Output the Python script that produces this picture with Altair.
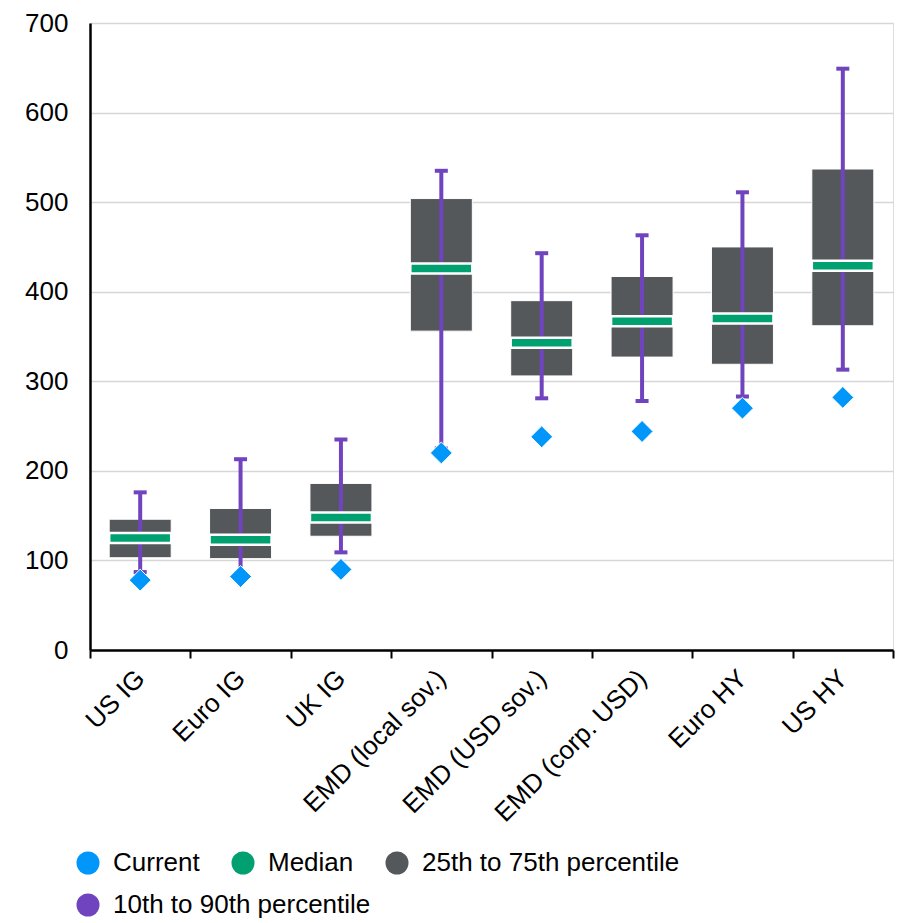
import altair as alt
import pandas as pd

categories = ["US IG", "Euro IG", "UK IG", "EMD (local sov.)", "EMD (USD sov.)",
              "EMD (corp. USD)", "Euro HY", "US HY"]
p10 = [87, 86, 109, 225, 281, 278, 283, 313]
p25 = [103, 102, 127, 356, 306, 327, 319, 362]
median = [125, 123, 148, 426, 343, 367, 370, 429]
p75 = [146, 158, 186, 504, 390, 417, 450, 537]
p90 = [176, 213, 235, 535, 443, 463, 511, 649]
current = [78, 82, 90, 220, 238, 244, 270, 282]

legend_labels = ["Current", "Median", "25th to 75th percentile"]
legend_colors = ["#0096FA", "#00A070", "#54585A"]
legend2_labels = ["10th to 90th percentile"]
legend2_colors = ["#7044BE"]

df = pd.DataFrame({
    "cat": categories, "p10": p10, "p25": p25, "median": median,
    "p75": p75, "p90": p90, "current": current,
})
df["series"] = "Current"
df["series2"] = "10th to 90th percentile"

FONT = "Liberation Sans"

x = alt.X("cat:N", sort=categories, title=None,
          scale=alt.Scale(paddingInner=0, paddingOuter=0),
          axis=alt.Axis(labelAngle=-45, labelAlign="right", labelBaseline="middle",
                        labelFontSize=26, labelFont=FONT, labelColor="#000000",
                        labelPadding=16, tickBand="extent", tickSize=8, tickColor="#000000",
                        tickWidth=2, domainColor="#000000", domainWidth=2.5,
                        grid=False, labelLimit=400))

yscale = alt.Scale(domain=[0, 700], nice=False)
yaxis = alt.Axis(values=[0, 100, 200, 300, 400, 500, 600, 700], labelFontSize=26,
                 labelFont=FONT, labelColor="#000000", ticks=False, labelPadding=22,
                 domainColor="#000000", domainWidth=2.5, gridColor="#d6d6d6",
                 gridWidth=1.5, title=None)

legend_common = dict(title=None, orient="none", direction="horizontal",
                     symbolType="circle", symbolSize=530, symbolStrokeWidth=0,
                     symbolOpacity=1, labelFontSize=26, labelFont=FONT,
                     labelColor="#000000", labelOffset=12, columnPadding=30,
                     labelLimit=500)

base = alt.Chart(df)

box = base.mark_bar(size=62, color="#54585A", stroke="#ffffff", strokeWidth=1).encode(
    x=x, y=alt.Y("p25:Q", scale=yscale, axis=yaxis), y2="p75:Q")

whisker = base.mark_rule(color="#7044BE", strokeWidth=4).encode(
    x=x, y="p10:Q", y2="p90:Q")

cap_hi = base.mark_tick(size=13, thickness=4, opacity=1, filled=True).encode(
    x=x, y="p90:Q",
    fill=alt.Fill("series2:N",
                  scale=alt.Scale(domain=legend2_labels, range=legend2_colors),
                  legend=alt.Legend(legendX=-15, legendY=869, **legend_common)))
cap_lo = base.mark_tick(color="#7044BE", size=13, thickness=4, opacity=1).encode(
    x=x, y="p10:Q")

med = base.mark_tick(color="#00A070", size=62, thickness=10, opacity=1,
                     stroke="#ffffff", strokeWidth=2.5).encode(x=x, y="median:Q")

diamonds = base.mark_point(shape="diamond", filled=True, size=480, opacity=1,
                           stroke="#ffffff", strokeWidth=1).encode(
    x=x, y="current:Q",
    color=alt.Color("series:N",
                    scale=alt.Scale(domain=legend_labels, range=legend_colors),
                    legend=alt.Legend(legendX=-15, legendY=827, **legend_common)))

chart = alt.layer(box, whisker, cap_hi, cap_lo, med, diamonds).properties(
    width=803, height=627,
    autosize=alt.AutoSizeParams(type="none"),
    padding={"left": 82, "top": 15, "right": 4, "bottom": 272},
).resolve_scale(color="independent", fill="independent").configure_view(
    stroke=None).configure(background="#ffffff")

chart.save("out.html", embed_options={"renderer": "svg", "actions": False})
